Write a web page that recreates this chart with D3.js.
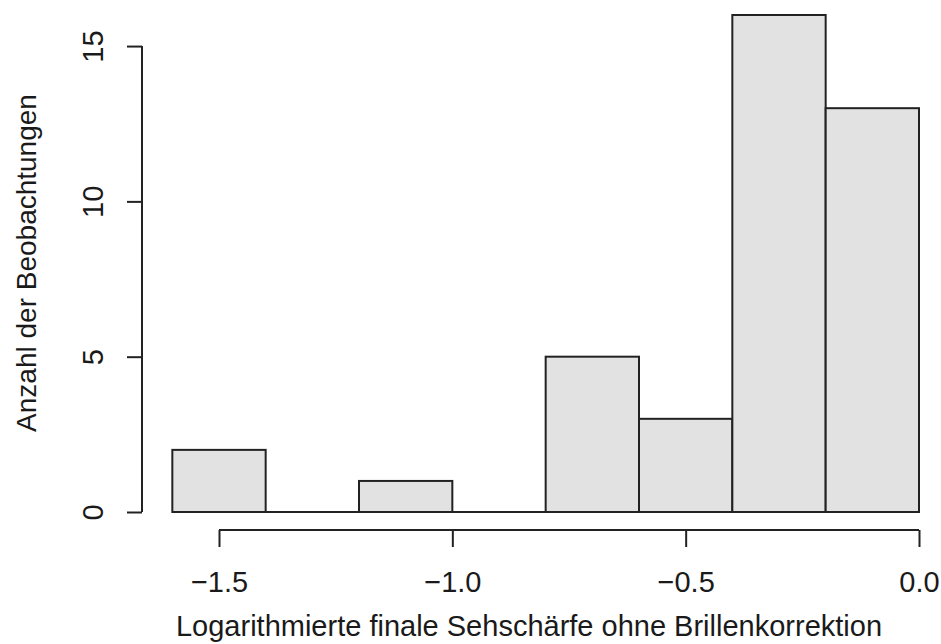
<!DOCTYPE html>
<html><head><meta charset="utf-8">
<script src="https://cdn.jsdelivr.net/npm/d3@7"></script>
<style>body{margin:0;background:#fff}svg{display:block}text{font-family:"Liberation Sans",Arial,sans-serif;fill:#1a1a1a}</style>
</head><body><svg id="c" width="941" height="644"></svg>
<script>
const binStarts = [-1.6, -1.4, -1.2, -1.0, -0.8, -0.6, -0.4, -0.2];
const binWidth = 0.2;
const counts = [2, 0, 1, 0, 5, 3, 16, 13];
const xTicks = [-1.5, -1.0, -0.5, 0.0];
const yTicks = [0, 5, 10, 15];
const xTitle = "Logarithmierte finale Sehschärfe ohne Brillenkorrektion";
const yTitle = "Anzahl der Beobachtungen";

const svg = d3.select("#c");
const x = d3.scaleLinear().domain([-1.5, 0]).range([219, 919]);
const y = d3.scaleLinear().domain([0, 16]).range([512, 15]);
const fs = 29;
const stroke = "#222";

const bins = counts.map((c, i) => ({c, x0: binStarts[i], x1: binStarts[i] + binWidth}));

svg.append("g").selectAll("rect").data(bins.filter(b => b.c > 0)).join("rect")
  .attr("x", d => x(d.x0))
  .attr("y", d => y(d.c))
  .attr("width", d => x(d.x1) - x(d.x0))
  .attr("height", d => y(0) - y(d.c))
  .attr("fill", "#e2e2e2")
  .attr("stroke", stroke)
  .attr("stroke-width", 2);
// zero-height bins drawn as a line along the baseline (as R does)
svg.append("g").selectAll("line").data(bins.filter(b => b.c === 0)).join("line")
  .attr("x1", d => x(d.x0)).attr("x2", d => x(d.x1))
  .attr("y1", y(0)).attr("y2", y(0))
  .attr("stroke", stroke).attr("stroke-width", 2);

// x axis
const gx = svg.append("g").attr("transform", "translate(0,530)")
  .call(d3.axisBottom(x).tickValues(xTicks).tickSize(17)
    .tickFormat(d3.format(".1f")));
gx.select(".domain").remove();
gx.append("line").attr("x1", x(xTicks[0])).attr("x2", x(xTicks[xTicks.length-1]))
  .attr("stroke", stroke).attr("stroke-width", 2);
gx.selectAll(".tick line").attr("stroke", stroke).attr("stroke-width", 2);
gx.selectAll(".tick text").attr("y", 62).attr("dy", 0)
  .style("font-size", fs + "px").attr("fill", "#1a1a1a")
  .style("font-family", '"Liberation Sans",Arial,sans-serif');

// y axis
const gy = svg.append("g").attr("transform", "translate(142,0)")
  .call(d3.axisLeft(y).tickValues(yTicks).tickSize(15).tickFormat(d3.format("d")));
gy.select(".domain").remove();
gy.append("line").attr("y1", y(yTicks[0])).attr("y2", y(yTicks[yTicks.length-1]))
  .attr("stroke", stroke).attr("stroke-width", 2);
gy.selectAll(".tick line").attr("stroke", stroke).attr("stroke-width", 2);
gy.selectAll(".tick text").remove();
gy.selectAll(".tick").append("text")
  .attr("transform", "translate(-49,0) rotate(-90)")
  .attr("text-anchor", "middle").attr("dy", "0.35em")
  .style("font-size", fs + "px").attr("fill", "#1a1a1a")
  .style("font-family", '"Liberation Sans",Arial,sans-serif')
  .text(d => d);

svg.append("text").attr("x", 529).attr("y", 636).attr("text-anchor", "middle")
  .style("font-size", fs + "px").text(xTitle);
svg.append("text").attr("transform", "translate(36,263) rotate(-90)").attr("text-anchor", "middle")
  .style("font-size", "28px").text(yTitle);
</script></body></html>
